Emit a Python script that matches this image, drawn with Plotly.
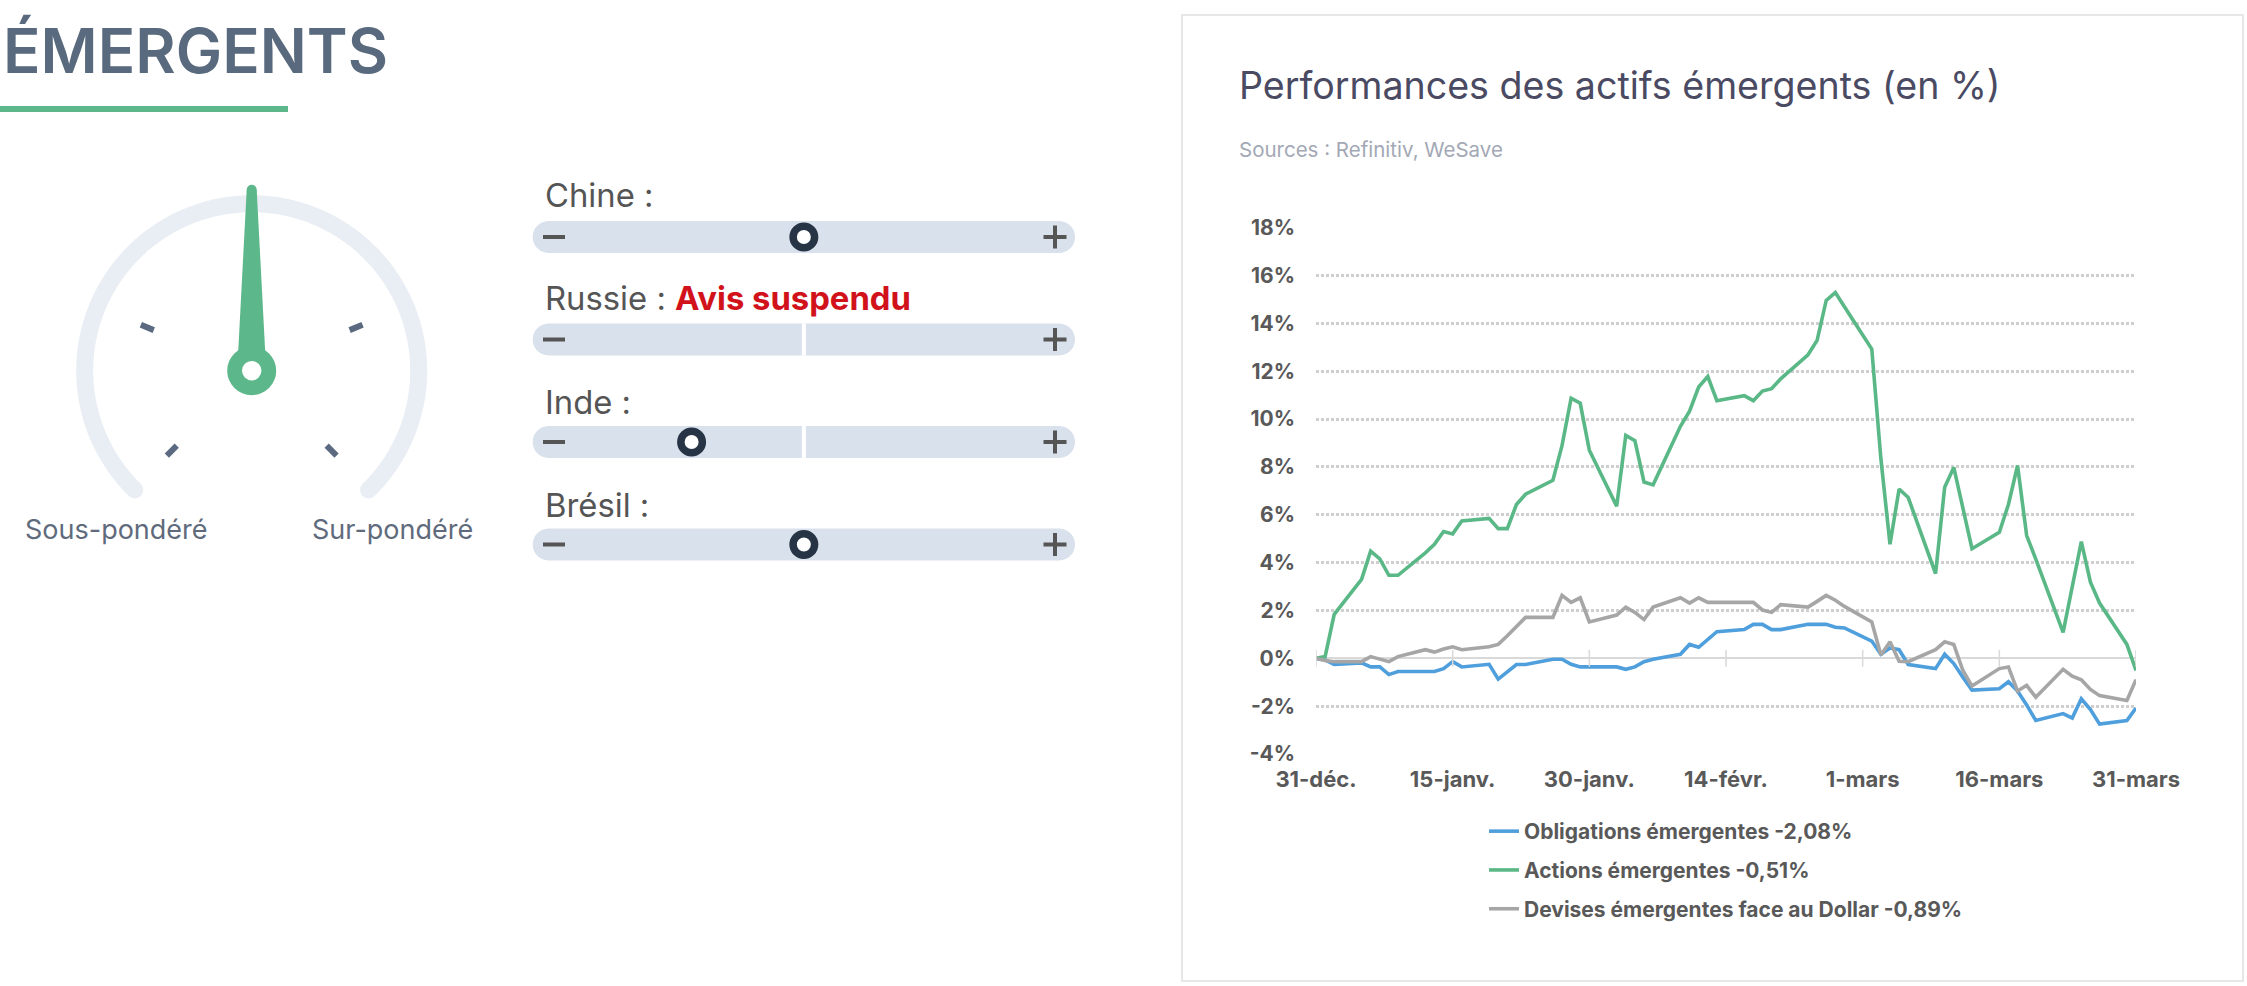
import numpy as np
import plotly.graph_objects as go

W, H = 2247, 986

# ---------------- DATA ----------------
dates = [
    "2021-12-31", "2022-01-01", "2022-01-02", "2022-01-05", "2022-01-06", "2022-01-07", "2022-01-08", "2022-01-09",
    "2022-01-12", "2022-01-13", "2022-01-14", "2022-01-15", "2022-01-16",
    "2022-01-19", "2022-01-20", "2022-01-21", "2022-01-22", "2022-01-23",
    "2022-01-26", "2022-01-27", "2022-01-28", "2022-01-29", "2022-01-30",
    "2022-02-02", "2022-02-03", "2022-02-04", "2022-02-05", "2022-02-06",
    "2022-02-09", "2022-02-10", "2022-02-11", "2022-02-12", "2022-02-13",
    "2022-02-16", "2022-02-17", "2022-02-18", "2022-02-19", "2022-02-20",
    "2022-02-23", "2022-02-24", "2022-02-25", "2022-02-26", "2022-02-27",
    "2022-03-02", "2022-03-03", "2022-03-04", "2022-03-05", "2022-03-06",
    "2022-03-09", "2022-03-10", "2022-03-11", "2022-03-12", "2022-03-13",
    "2022-03-16", "2022-03-17", "2022-03-18", "2022-03-19", "2022-03-20",
    "2022-03-23", "2022-03-24", "2022-03-25", "2022-03-26", "2022-03-27",
    "2022-03-30", "2022-03-31",
]

obligations = [
    0, -0.07, -0.26, -0.19, -0.36, -0.36, -0.68, -0.55,
    -0.55, -0.55, -0.43, -0.14, -0.36,
    -0.25, -0.87, -0.58, -0.26, -0.26,
    -0.04, -0.04, -0.25, -0.36, -0.36,
    -0.36, -0.46, -0.36, -0.14, -0.04,
    0.17, 0.58, 0.46, 0.79, 1.11,
    1.20, 1.42, 1.42, 1.20, 1.20,
    1.42, 1.42, 1.42, 1.30, 1.27,
    0.72, 0.17, 0.43, 0.36, -0.26,
    -0.43, 0.17, -0.22, -0.79, -1.33,
    -1.27, -0.98, -1.37, -1.95, -2.60,
    -2.31, -2.50, -1.69, -2.14, -2.75,
    -2.60, -2.08,
]

actions = [
    0, 0.07, 1.84, 3.30, 4.48, 4.16, 3.47, 3.47,
    4.41, 4.77, 5.30, 5.20, 5.74,
    5.85, 5.42, 5.42, 6.43, 6.86,
    7.44, 8.89, 10.87, 10.66, 8.70,
    6.36, 9.32, 9.10, 7.37, 7.25,
    9.70, 10.33, 11.34, 11.78, 10.77,
    10.98, 10.77, 11.17, 11.27, 11.68,
    12.69, 13.29, 14.96, 15.29, 14.70,
    12.93, 8.34, 4.77, 7.08, 6.72,
    3.54, 7.15, 7.98, 6.29, 4.58,
    5.27, 6.43, 8.06, 5.13, 4.15,
    1.08, 2.99, 4.88, 3.18, 2.31,
    0.58, -0.51,
]

devises = [
    0, -0.09, -0.14, -0.14, 0.07, -0.03, -0.14, 0.07,
    0.36, 0.26, 0.39, 0.48, 0.36,
    0.48, 0.58, 0.94, 1.33, 1.71,
    1.71, 2.63, 2.34, 2.53, 1.52,
    1.81, 2.14, 1.92, 1.62, 2.14,
    2.53, 2.31, 2.53, 2.34, 2.34,
    2.34, 2.34, 2.02, 1.92, 2.24,
    2.14, 2.38, 2.63, 2.43, 2.17,
    1.52, 0.14, 0.69, -0.12, -0.14,
    0.36, 0.69, 0.58, -0.51, -1.16,
    -0.43, -0.36, -1.37, -1.13, -1.63,
    -0.46, -0.75, -0.90, -1.30, -1.56,
    -1.76, -0.89,
]

series_names = [
    "Obligations émergentes -2,08%",
    "Actions émergentes -0,51%",
    "Devises émergentes face au Dollar -0,89%",
]

x_tick_vals = ["2021-12-31", "2022-01-15", "2022-01-30", "2022-02-14", "2022-03-01", "2022-03-16", "2022-03-31"]
x_tick_text = ["31-déc.", "15-janv.", "30-janv.", "14-févr.", "1-mars", "16-mars", "31-mars"]
y_tick_vals = [-4, -2, 0, 2, 4, 6, 8, 10, 12, 14, 16, 18]
y_tick_text = ["-4%", "-2%", "0%", "2%", "4%", "6%", "8%", "10%", "12%", "14%", "16%", "18%"]

slider_labels = ["Chine :", "Russie : <b><span style='color:#d1121b'>Avis suspendu</span></b>", "Inde :", "Brésil :"]
slider_positions = [0.5, None, 0.293, 0.5]   # fraction along the bar, None = suspended
gauge_position = 2                            # 0..4 (Sous-pondéré .. Sur-pondéré)

# ---------------- STYLE ----------------
FONT = "Inter"
C_BLUE, C_GREEN, C_GREY = "#4f9fdd", "#5ab887", "#a6a6a6"
C_AXIS_TXT = "#595959"


def X(px):
    return px / W


def Y(py):
    return 1 - py / H


def poly_path(pts, close=True):
    s = "M" + " L".join(f"{X(a):.6f},{Y(b):.6f}" for a, b in pts)
    return s + (" Z" if close else "")


def round_rect_pts(x0, y0, x1, y1, r, n=12):
    pts = []
    for cx, cy, a0 in [(x1 - r, y0 + r, -90), (x1 - r, y1 - r, 0), (x0 + r, y1 - r, 90), (x0 + r, y0 + r, 180)]:
        for t in np.linspace(a0, a0 + 90, n):
            pts.append((cx + r * np.cos(np.radians(t)), cy + r * np.sin(np.radians(t))))
    return pts


def circle(cx, cy, r, fill, line_color=None, line_width=0, layer="above"):
    return dict(type="circle", xref="paper", yref="paper",
                x0=X(cx - r), x1=X(cx + r), y0=Y(cy + r), y1=Y(cy - r),
                fillcolor=fill, line=dict(color=line_color or fill, width=line_width), layer=layer)


def seg(xa, ya, xb, yb, color, width):
    return dict(type="line", xref="paper", yref="paper", x0=X(xa), y0=Y(ya), x1=X(xb), y1=Y(yb),
                line=dict(color=color, width=width))


shapes = []
annotations = []

# card
shapes.append(dict(type="rect", xref="paper", yref="paper", x0=X(1182), x1=X(2243), y0=Y(981), y1=Y(15),
                   fillcolor="white", line=dict(color="#e7e7e7", width=2), layer="below"))

# title left + underline
annotations.append(dict(text="ÉMERGENTS", x=X(1), y=Y(50.5), xref="paper", yref="paper",
                        xanchor="left", yanchor="middle", showarrow=False,
                        font=dict(family=FONT, size=62, color="#5a6a7e", weight=600)))
shapes.append(dict(type="rect", xref="paper", yref="paper", x0=X(0), x1=X(288), y0=Y(112), y1=Y(106),
                   fillcolor="#5cb88a", line=dict(width=0)))

# gauge
gcx, gcy, gr = 251.7, 370.7, 167.0
ang = np.radians(np.linspace(225.6, -45.6, 160))
arc = [(gcx + gr * np.cos(a), gcy - gr * np.sin(a)) for a in ang]
shapes.append(dict(type="path", xref="paper", yref="paper", path=poly_path(arc, close=False),
                   line=dict(color="#e9eef4", width=17)))
for a, b in (arc[0], arc[-1]):
    shapes.append(circle(a, b, 8.5, "#e9eef4"))
for k in [0, 1, 3, 4]:
    t = np.radians(225 - 67.5 * k)
    shapes.append(seg(gcx + 106 * np.cos(t), gcy - 106 * np.sin(t),
                      gcx + 120 * np.cos(t), gcy - 120 * np.sin(t), "#5b6a80", 6))
t = np.radians(225 - 67.5 * gauge_position)
ux, uy = np.cos(t), -np.sin(t)
nx, ny = -uy, ux
tip_d, base_d = 181.0, 19.0
needle = [
    (gcx + ux * tip_d + nx * 5, gcy + uy * tip_d + ny * 5),
    (gcx + ux * tip_d - nx * 5, gcy + uy * tip_d - ny * 5),
    (gcx + ux * base_d - nx * 13.5, gcy + uy * base_d - ny * 13.5),
    (gcx + ux * base_d + nx * 13.5, gcy + uy * base_d + ny * 13.5),
]
shapes.append(dict(type="path", xref="paper", yref="paper", path=poly_path(needle),
                   fillcolor="#5cb88a", line=dict(width=0)))
shapes.append(circle(gcx + ux * tip_d, gcy + uy * tip_d, 5, "#5cb88a"))
shapes.append(circle(gcx, gcy, 24.5, "#5cb88a"))
shapes.append(circle(gcx, gcy, 9.7, "white"))
annotations.append(dict(text="Sous-pondéré", x=X(23), y=Y(529.5), xref="paper", yref="paper",
                        xanchor="left", yanchor="middle", showarrow=False,
                        font=dict(family=FONT, size=27, color="#5f6b7c")))
annotations.append(dict(text="Sur-pondéré", x=X(310), y=Y(529.5), xref="paper", yref="paper",
                        xanchor="left", yanchor="middle", showarrow=False,
                        font=dict(family=FONT, size=27, color="#5f6b7c")))

# sliders
bx0, bx1, bh = 532.7, 1075.0, 32.0
for i, (lab, pos) in enumerate(zip(slider_labels, slider_positions)):
    ly = 195.0 + i * 103.3
    by0 = 221.0 + i * 102.5
    cy = by0 + bh / 2
    annotations.append(dict(text=lab, x=X(543), y=Y(ly), xref="paper", yref="paper",
                            xanchor="left", yanchor="middle", showarrow=False,
                            font=dict(family=FONT, size=32.8, color="#555555")))
    shapes.append(dict(type="path", xref="paper", yref="paper",
                       path=poly_path(round_rect_pts(bx0, by0, bx1, by0 + bh, bh / 2)),
                       fillcolor="#d9e1ec", line=dict(width=0)))
    shapes.append(seg(543, cy, 565, cy, "#555555", 4))
    shapes.append(seg(1043.5, cy, 1066.5, cy, "#555555", 4))
    shapes.append(seg(1055, cy - 11.5, 1055, cy + 11.5, "#555555", 4))
    mid = (bx0 + bx1) / 2
    if pos is None or abs(pos - 0.5) > 1e-6:
        shapes.append(seg(mid, by0, mid, by0 + bh, "white", 4))
    if pos is not None:
        kx = bx0 + pos * (bx1 - bx0)
        shapes.append(circle(kx, cy, 10.75, "white", "#263445", 7.5))

# chart title
annotations.append(dict(text="Performances des actifs émergents (en %)", x=X(1237), y=Y(85.9),
                        xref="paper", yref="paper", xanchor="left", yanchor="middle", showarrow=False,
                        font=dict(family=FONT, size=37.6, color="#4a4a63")))
annotations.append(dict(text="Sources : Refinitiv, WeSave", x=X(1237), y=Y(149.5),
                        xref="paper", yref="paper", xanchor="left", yanchor="middle", showarrow=False,
                        font=dict(family=FONT, size=20.5, color="#a3a8b5")))

# ---------------- FIGURE ----------------
fig = go.Figure()
for name, vals, col in zip(series_names, [obligations, actions, devises], [C_BLUE, C_GREEN, C_GREY]):
    fig.add_trace(go.Scatter(x=dates, y=vals, mode="lines", name=name, legendgroup=name,
                             line=dict(color=col, width=3.6), hoverinfo="skip"))
# small tick marks on the zero axis line
fig.add_trace(go.Scatter(x=x_tick_vals, y=[0] * len(x_tick_vals), mode="markers", showlegend=False,
                         hoverinfo="skip",
                         marker=dict(symbol="line-ns", size=12, line=dict(color="#d9d9d9", width=1.5))))

fig.update_layout(
    width=W, height=H, autosize=False,
    margin=dict(l=0, r=0, t=0, b=0, pad=0, autoexpand=False),
    paper_bgcolor="white", plot_bgcolor="rgba(0,0,0,0)",
    font=dict(family=FONT, color=C_AXIS_TXT),
    shapes=shapes, annotations=annotations,
    showlegend=True,
    legend=dict(x=X(1484), y=Y(811), xanchor="left", yanchor="top",
                traceorder="grouped", tracegroupgap=8.5,
                bgcolor="rgba(0,0,0,0)", borderwidth=0,
                font=dict(family=FONT, size=21, color=C_AXIS_TXT, weight=700)),
    xaxis=dict(domain=[X(1316), X(2136)], type="date", range=["2021-12-31", "2022-03-31"],
               tickvals=x_tick_vals, ticktext=x_tick_text, showgrid=False, zeroline=False,
               showline=False, ticks="", ticklabelstandoff=10, automargin=False,
               tickfont=dict(family=FONT, size=22, color=C_AXIS_TXT, weight=700)),
    yaxis=dict(domain=[Y(754), Y(227.7)], range=[-4, 18], tickvals=y_tick_vals, ticktext=y_tick_text,
               showgrid=True, gridcolor="#cfcfcf", griddash="3px,2px", gridwidth=3,
               zeroline=True, zerolinecolor="#d9d9d9", zerolinewidth=1.5,
               showline=False, ticks="", ticklabelstandoff=20, automargin=False,
               tickfont=dict(family=FONT, size=21, color=C_AXIS_TXT, weight=700)),
)

fig.write_html("out.html", config={"displayModeBar": False},
               post_script="document.body.style.margin='0px';document.body.style.overflow='hidden';")
